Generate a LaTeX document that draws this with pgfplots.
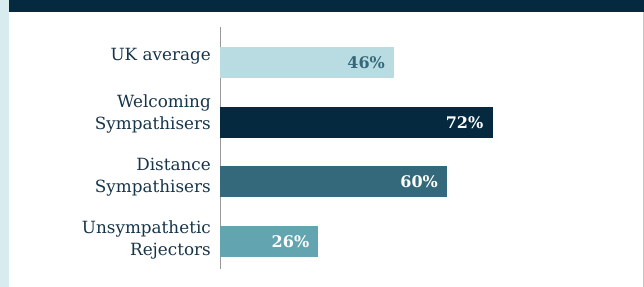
\documentclass[border=0pt]{standalone}
\usepackage{pgfplots}
\pgfplotsset{compat=1.18}
\usepackage{fontspec}
\setmainfont{DejaVu Serif}
\definecolor{navy}{HTML}{05293F}
\definecolor{lightbar}{HTML}{B9DCE2}
\definecolor{midbar}{HTML}{34697B}
\definecolor{tealbar}{HTML}{62A5B1}
\definecolor{strip}{HTML}{D8EBEF}
\definecolor{labtext}{HTML}{16354A}
\begin{document}
\begin{tikzpicture}
\path[use as bounding box] (0,0) rectangle (644bp,287bp);
\fill[strip] (0,0) rectangle (9bp,287bp);
\fill[navy] (9bp,275bp) rectangle (644bp,287bp);
\draw[gray!45, line width=1bp] (643bp,0) -- (643bp,275bp);
\begin{axis}[
  at={(220bp,18bp)}, anchor=south west,
  scale only axis, width=378.5bp, height=242bp,
  xbar, bar width=31bp, bar shift=0pt,
  xmin=0, xmax=100,
  ymin=-0.595, ymax=3.46, y dir=reverse,
  axis x line=none,
  axis y line*=left,
  y axis line style={draw=gray!80, line width=0.8bp},
  major tick length=0pt,
  ytick={-0.11,0.86,1.925,2.975},
  yticklabels={UK average, Welcoming\\Sympathisers, Distance\\Sympathisers, Unsympathetic\\Rejectors},
  yticklabel style={align=right, font=\fontsize{16.8bp}{22bp}\selectfont, text=labtext, inner sep=0pt, xshift=-9bp},
  /pgf/number format/assume math mode=true,
  nodes near coords={\pgfmathprintnumber{\pgfplotspointmeta}\%},
  every node near coord/.append style={anchor=east, inner sep=0pt, xshift=-9bp, font=\fontsize{16bp}{18bp}\selectfont\bfseries},
]
\addplot[fill=lightbar, draw=none, every node near coord/.append style={text=midbar}] coordinates {(46,0)};
\addplot[fill=navy, draw=none, every node near coord/.append style={text=white}] coordinates {(72,1)};
\addplot[fill=midbar, draw=none, every node near coord/.append style={text=white}] coordinates {(60,2)};
\addplot[fill=tealbar, draw=none, every node near coord/.append style={text=white}] coordinates {(26,3)};
\end{axis}
\end{tikzpicture}
\end{document}
